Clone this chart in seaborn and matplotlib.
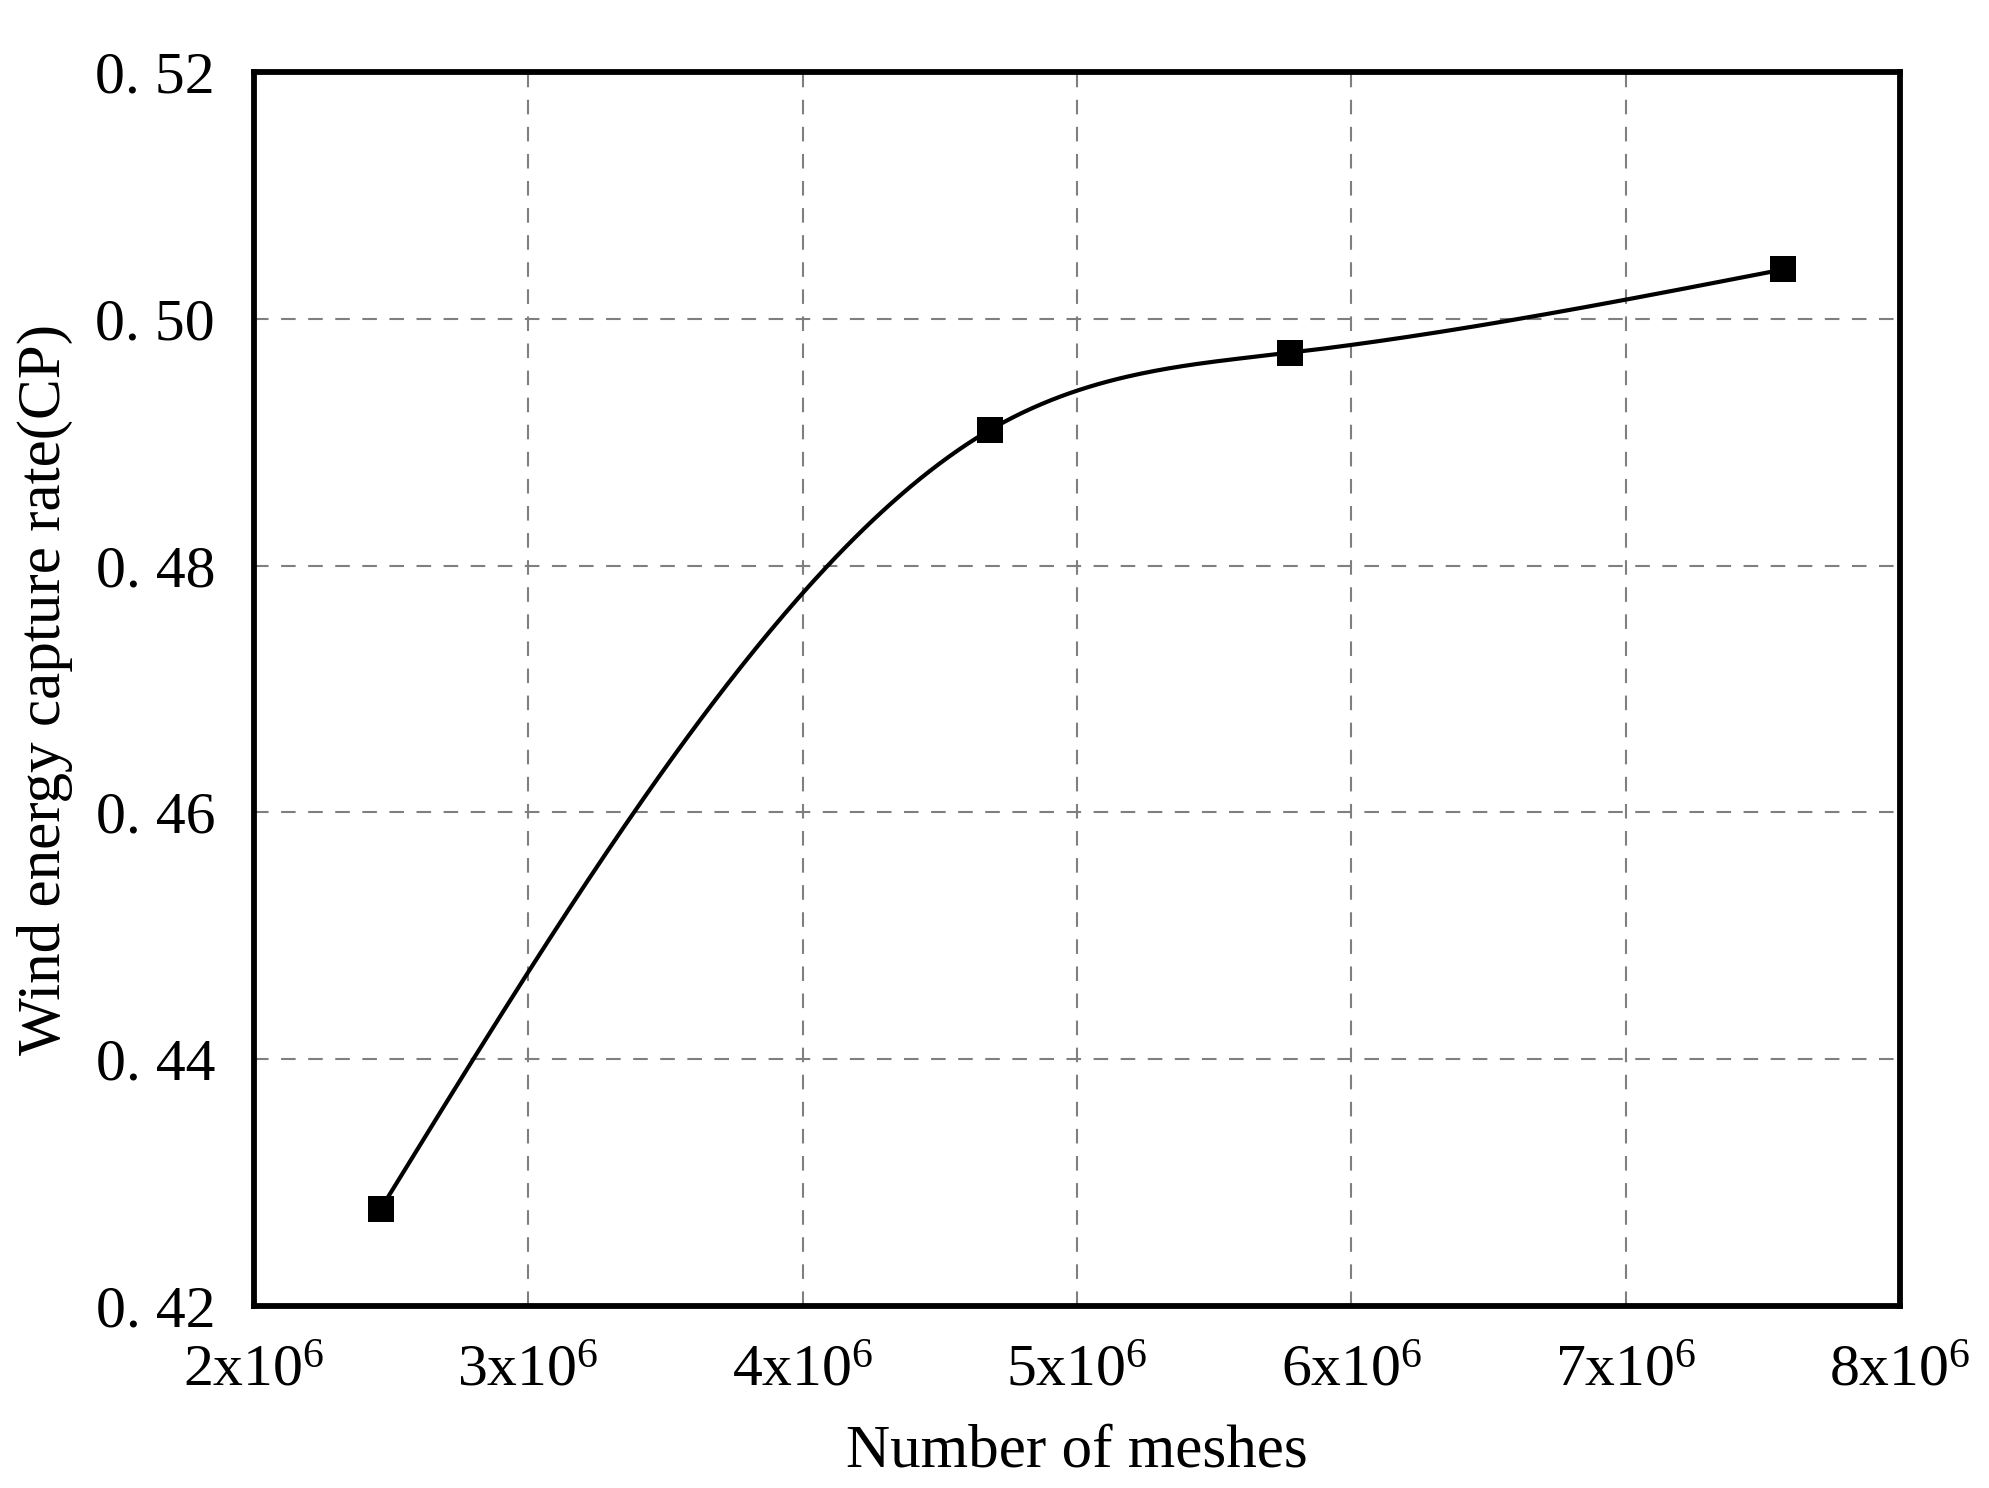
import numpy as np
import pandas as pd
import matplotlib
matplotlib.use("Agg")
import matplotlib.pyplot as plt
import seaborn as sns

# values
meshes = [2.463e6, 4.683e6, 5.775e6, 7.574e6]
cp = [0.4279, 0.4910, 0.49725, 0.5040]
x_ticks = [2e6, 3e6, 4e6, 5e6, 6e6, 7e6, 8e6]
x_tick_labels = [r"2x10$^{6}$", r"3x10$^{6}$", r"4x10$^{6}$", r"5x10$^{6}$",
                 r"6x10$^{6}$", r"7x10$^{6}$", r"8x10$^{6}$"]
y_ticks = [0.42, 0.44, 0.46, 0.48, 0.50, 0.52]
y_tick_labels = ["0. 42", "0. 44", "0. 46", "0. 48", "0. 50", "0. 52"]


def natural_spline(x, y, n=300):
    # natural cubic spline through the points, only used to draw the connecting curve
    x = np.asarray(x, float)
    y = np.asarray(y, float)
    k = len(x)
    h = np.diff(x)
    A = np.zeros((k, k))
    b = np.zeros(k)
    A[0, 0] = A[-1, -1] = 1
    for i in range(1, k - 1):
        A[i, i - 1] = h[i - 1]
        A[i, i] = 2 * (h[i - 1] + h[i])
        A[i, i + 1] = h[i]
        b[i] = 3 * ((y[i + 1] - y[i]) / h[i] - (y[i] - y[i - 1]) / h[i - 1])
    c = np.linalg.solve(A, b)
    xs = np.linspace(x[0], x[-1], n)
    ys = np.empty_like(xs)
    for j, xv in enumerate(xs):
        i = min(np.searchsorted(x, xv, side="right") - 1, k - 2)
        d = xv - x[i]
        bi = (y[i + 1] - y[i]) / h[i] - h[i] * (2 * c[i] + c[i + 1]) / 3
        di = (c[i + 1] - c[i]) / (3 * h[i])
        ys[j] = y[i] + bi * d + c[i] * d ** 2 + di * d ** 3
    return xs, ys


sns.set_style("white")
plt.rcParams["font.family"] = ["Liberation Serif", "DejaVu Serif"]
plt.rcParams["mathtext.fontset"] = "custom"
plt.rcParams["mathtext.rm"] = "Liberation Serif"
plt.rcParams["mathtext.it"] = "Liberation Serif"
plt.rcParams["text.color"] = "black"
plt.rcParams["xtick.color"] = "black"
plt.rcParams["ytick.color"] = "black"
plt.rcParams["axes.labelcolor"] = "black"

df = pd.DataFrame({"meshes": meshes, "cp": cp})
xs, ys = natural_spline(meshes, cp)
curve = pd.DataFrame({"meshes": xs, "cp": ys})

fig = plt.figure(figsize=(19.9, 14.88), dpi=100)
ax = fig.add_axes([0.1276, 0.1223, 0.8272, 0.8293])

sns.lineplot(data=curve, x="meshes", y="cp", ax=ax, color="black", linewidth=3, sort=False)
sns.scatterplot(data=df, x="meshes", y="cp", ax=ax, marker="s", s=360, color="black",
                edgecolor="black", linewidth=0, zorder=5)

ax.set_xlim(2e6, 8e6)
ax.set_ylim(0.42, 0.52)
ax.set_xticks(x_ticks)
ax.set_xticklabels(x_tick_labels)
ax.set_yticks(y_ticks)
ax.set_yticklabels(y_tick_labels)
ax.tick_params(axis="both", length=0, labelsize=43)
ax.tick_params(axis="x", pad=28)
ax.tick_params(axis="y", pad=28)

ax.grid(True, color="#7f7f7f", linestyle=(0, (7, 6)), linewidth=1.5)
for s in ax.spines.values():
    s.set_linewidth(4.2)
    s.set_color("black")

ax.set_xlabel("Number of meshes", fontsize=44, labelpad=18)
ax.set_ylabel("Wind energy capture rate(CP)", fontsize=44, labelpad=16)

fig.savefig("out.png", dpi=100, facecolor="white")
